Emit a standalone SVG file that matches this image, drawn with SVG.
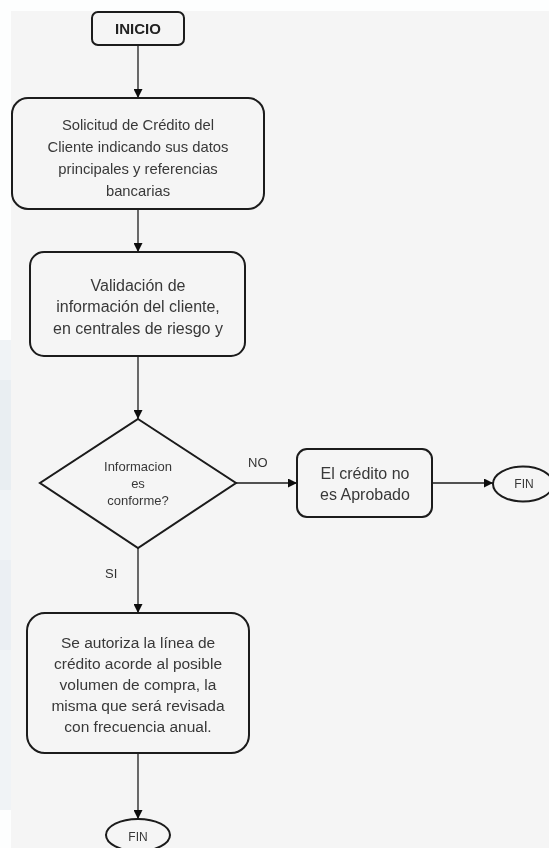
<svg xmlns="http://www.w3.org/2000/svg" width="549" height="848" viewBox="0 0 549 848">
  <defs>
    <marker id="arrow" viewBox="0 0 10 10" refX="10" refY="5" markerWidth="10" markerHeight="9" markerUnits="userSpaceOnUse" orient="auto">
      <path d="M0,0 L10,5 L0,10 z" fill="#111"/>
    </marker>
    <filter id="soft" x="-5%" y="-5%" width="110%" height="110%">
      <feGaussianBlur stdDeviation="0.4"/>
    </filter>
  </defs>
  <style>
    .shape { fill: none; stroke: #1a1a1a; stroke-width: 2; }
    .conn { fill: none; stroke: #1a1a1a; stroke-width: 1.3; marker-end: url(#arrow); }
    .txt { font-family: "Liberation Sans", Arial, sans-serif; font-size: 15px; fill: #383838; text-anchor: middle; }
    .s148 { font-size: 14.8px; }
    .s16 { font-size: 16px; }
    .s155 { font-size: 15.5px; }
    .small { font-size: 13px; }
    .fin { font-size: 12px; }
    .lbl { font-family: "Liberation Sans", Arial, sans-serif; font-size: 13px; fill: #333; }
    .bold { font-weight: bold; font-size: 15px; fill: #222; }
  </style>

  <!-- page and sheet backgrounds -->
  <rect x="0" y="0" width="549" height="848" fill="#fdfefe"/>
  <rect x="0" y="340" width="11" height="470" fill="#f0f3f6"/>
  <rect x="0" y="380" width="11" height="110" fill="#e9eef2"/>
  <rect x="0" y="560" width="11" height="90" fill="#ebeff3"/>
  <rect x="11" y="11" width="538" height="837" fill="#f5f5f5"/>

  <g filter="url(#soft)">
    <!-- connectors -->
    <g id="connectors">
      <line class="conn" x1="138" y1="45" x2="138" y2="98"/>
      <line class="conn" x1="138" y1="209" x2="138" y2="252"/>
      <line class="conn" x1="138" y1="356" x2="138" y2="419"/>
      <line class="conn" x1="236" y1="483" x2="297" y2="483"/>
      <line class="conn" x1="432" y1="483" x2="493" y2="483"/>
      <line class="conn" x1="138" y1="548" x2="138" y2="613"/>
      <line class="conn" x1="138" y1="753" x2="138" y2="819"/>
      <text class="lbl" x="248" y="467">NO</text>
      <text class="lbl" x="105" y="578">SI</text>
    </g>

    <g id="inicio">
      <rect class="shape" x="92" y="12" width="92" height="33" rx="6"/>
      <text class="txt bold" x="138" y="34">INICIO</text>
    </g>

    <g id="solicitud">
      <rect class="shape" x="12" y="98" width="252" height="111" rx="16"/>
      <text class="txt s148" x="138" y="130">Solicitud de Crédito del</text>
      <text class="txt s148" x="138" y="152">Cliente indicando sus datos</text>
      <text class="txt s148" x="138" y="174">principales y referencias</text>
      <text class="txt s148" x="138" y="196">bancarias</text>
    </g>

    <g id="validacion">
      <rect class="shape" x="30" y="252" width="215" height="104" rx="14"/>
      <text class="txt s16" x="138" y="291">Validación de</text>
      <text class="txt s16" x="138" y="312">información del cliente,</text>
      <text class="txt s16" x="138" y="334">en centrales de riesgo  y</text>
    </g>

    <g id="decision">
      <polygon class="shape" points="138,419 236,483 138,548 40,483"/>
      <text class="txt small" x="138" y="471">Informacion</text>
      <text class="txt small" x="138" y="488">es</text>
      <text class="txt small" x="138" y="505">conforme?</text>
    </g>

    <g id="rechazo">
      <rect class="shape" x="297" y="449" width="135" height="68" rx="10"/>
      <text class="txt s16" x="365" y="479">El crédito no</text>
      <text class="txt s16" x="365" y="500">es Aprobado</text>
    </g>

    <g id="fin-rechazo">
      <ellipse class="shape" cx="523" cy="484" rx="30" ry="17.5"/>
      <text class="txt fin" x="524" y="488">FIN</text>
    </g>

    <g id="aprobacion">
      <rect class="shape" x="27" y="613" width="222" height="140" rx="18"/>
      <text class="txt s155" x="138" y="648">Se autoriza la línea de</text>
      <text class="txt s155" x="138" y="669">crédito acorde al posible</text>
      <text class="txt s155" x="138" y="690">volumen de compra, la</text>
      <text class="txt s155" x="138" y="711">misma que será revisada</text>
      <text class="txt s155" x="138" y="732">con frecuencia anual.</text>
    </g>

    <g id="fin-aprobacion">
      <ellipse class="shape" cx="138" cy="835" rx="32" ry="16"/>
      <text class="txt fin" x="138" y="841">FIN</text>
    </g>
  </g>
</svg>
